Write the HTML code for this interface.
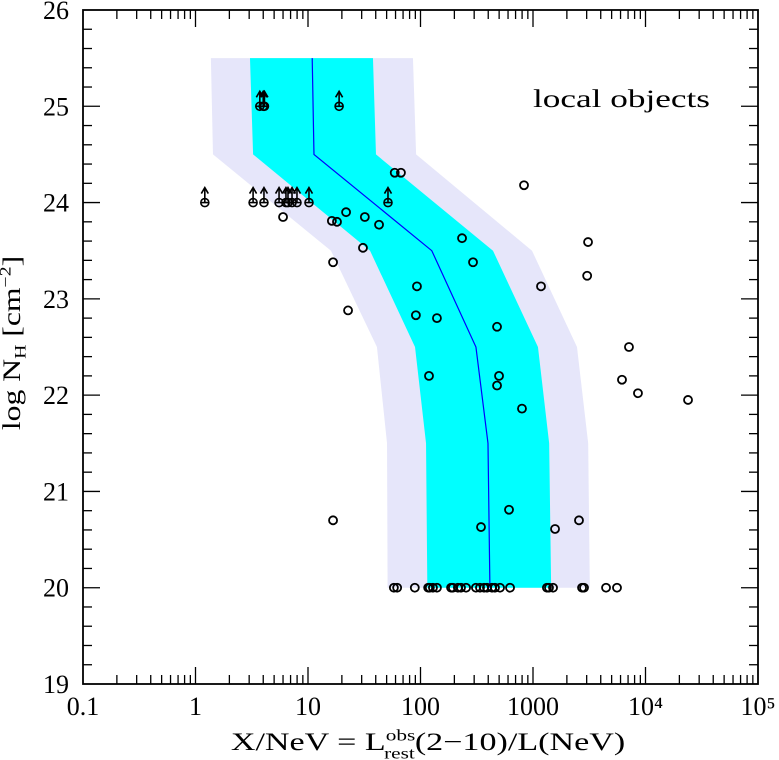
<!DOCTYPE html>
<html><head><meta charset="utf-8"><style>
html,body{margin:0;padding:0;background:#fff;}
svg{display:block;}
text{font-family:"Liberation Serif","DejaVu Serif",serif;fill:#000;}
</style></head><body>
<svg id="chart" width="779" height="760" viewBox="0 0 779 760" xmlns="http://www.w3.org/2000/svg">
<g id="bands"></g>
<g id="pts"></g>
<g id="axes"></g>
<text x="533" y="107" font-size="25" textLength="177" lengthAdjust="spacingAndGlyphs">local objects</text>
<g transform="translate(20,343) rotate(-90) scale(1.32,1.05)">
<text x="0" y="0" text-anchor="middle" font-size="24">log N<tspan font-size="15" dy="5">H</tspan><tspan dy="-5"> [cm</tspan><tspan font-size="15" dy="-9">−2</tspan><tspan dy="9">]</tspan></text>
</g>
<g transform="translate(428,750) scale(1.42,1.05)">
<text x="0" y="0" text-anchor="middle" font-size="24">X/NeV = L<tspan font-size="15" dy="-9">obs</tspan><tspan font-size="15" dx="-22" dy="17">rest</tspan><tspan dy="-8">(2−10)/L(NeV)</tspan></text>
</g>
</svg>
<script>
// band levels (log NH) and widths (X/NeV)
const bandY = [25.5, 24.5, 23.5, 22.5, 21.5, 20];
const medianX = [10.9, 11.3, 126, 311, 398, 414];
const cyanLo = [3.05, 3.25, 35.6, 89.4, 112, 115];
const cyanHi = [37.8, 40.2, 441, 1107, 1392, 1450];
const lavLo = [1.37, 1.43, 16, 41, 50.4, 51];
const lavHi = [85.7, 91.4, 980, 2460, 3094, 3200];
// detections
const detX = [58,62,89,117,121,129,140,187,194,215,229,254,311,338,367,390,432,459,509,625,1330,1387,1507,2729,2840,4460,5580,
 345,612,1570,2563,16.7,832,3085,3030,1178,7130,6180,8570,23880,798,
 59,67,6.0,16.3,18.1,21.8,32,42.8,234,30.8,293,16.7,93,22.7,91,140,479,119,499,479];
const detY = [20,20,20,20,20,20,20,20,20,20,20,20,20,20,20,20,20,20,20,20,20,20,20,20,20,20,20,
 20.63,20.81,20.61,20.70,20.70,24.18,23.59,23.24,23.13,22.50,22.16,22.02,21.95,21.86,
 24.31,24.31,23.85,23.81,23.80,23.90,23.85,23.77,23.63,23.53,23.38,23.38,23.13,22.88,22.83,22.80,22.71,22.20,22.20,22.10];
// lower limits
const limX = [1.21,3.25,4.06,5.53,6.37,6.64,7.21,7.98,10.2,51.4,3.73,4.0,4.1,18.9];
const limY = [24,24,24,24,24,24,24,24,24,24,25,25,25,25];
const xTickLabels = ['0.1','1','10','100','1000','10⁴','10⁵'];
const yTickLabels = ['19','20','21','22','23','24','25','26'];

const L=83,R=758,T=10,B=684;
const sx=v=>L+(Math.log10(v)+1)*(R-L)/6;
const sy=n=>B-(n-19)*(B-T)/7;
const NS='http://www.w3.org/2000/svg';
function mk(tag,attrs,parent){const e=document.createElementNS(NS,tag);for(const k in attrs)e.setAttribute(k,attrs[k]);parent.appendChild(e);return e;}
const bands=document.getElementById('bands');
function poly(lo,hi,fill,name){
  const pts=[];
  for(let i=0;i<bandY.length;i++)pts.push(sx(lo[i])+','+sy(bandY[i]));
  for(let i=bandY.length-1;i>=0;i--)pts.push(sx(hi[i])+','+sy(bandY[i]));
  const p=mk('polygon',{points:pts.join(' '),fill:fill},bands);
  
  
}
poly(lavLo,lavHi,'#e6e6fa','outer-band');
poly(cyanLo,cyanHi,'#00ffff','inner-band');
const ml=mk('polyline',{points:medianX.map((v,i)=>sx(v)+','+sy(bandY[i])).join(' '),fill:'none',stroke:'#0000ff','stroke-width':1.2},bands);



const pts=document.getElementById('pts');
for(let i=0;i<detX.length;i++){
  const c=mk('circle',{cx:sx(detX[i]),cy:sy(detY[i]),r:4,fill:'none',stroke:'#000','stroke-width':1.8},pts);
  
  
}
for(let i=0;i<limX.length;i++){
  const x=sx(limX[i]),y=sy(limY[i]);
  const g=mk('g',{stroke:'#000','stroke-width':1.6,fill:'none'},pts);
  
  
  mk('circle',{cx:x,cy:y,r:4},g);
  mk('line',{x1:x-4,y1:y,x2:x+4,y2:y},g);
  mk('line',{x1:x,y1:y,x2:x,y2:y-14},g);
  mk('polyline',{points:(x-3.5)+','+(y-9)+' '+x+','+(y-15)+' '+(x+3.5)+','+(y-9)},g);
}
const ax=document.getElementById('axes');
const fr=mk('rect',{x:L,y:T,width:R-L,height:B-T,fill:'none',stroke:'#000','stroke-width':1.8},ax);


function tk(x1,y1,x2,y2){mk('line',{x1,y1,x2,y2,stroke:'#000','stroke-width':1.3},ax);}
for(let d=0;d<6;d++){
  for(let m=1;m<10;m++){
    const v=Math.pow(10,d-1)*m;const x=sx(v);const len=m===1?17:9;
    if(m===1&&d===0)continue;
    tk(x,B,x,B-len);tk(x,T,x,T+len);
  }
}
xTickLabels.forEach((s,i)=>{
  const t=mk('text',{x:sx(Math.pow(10,i-1)),y:B+31,'text-anchor':'middle','font-size':26},ax);
  t.textContent=s;
  
  
});
for(let k=0;k<=35;k++){
  const n=19+k*0.2;const y=sy(n);const len=(k%5===0)?17:9;
  if(k===0||k===35)continue;
  tk(L,y,L+len,y);tk(R,y,R-len,y);
}
yTickLabels.forEach((s,i)=>{
  const t=mk('text',{x:L-14,y:sy(19+i)+9,'text-anchor':'end','font-size':26},ax);
  t.textContent=s;
  
  
});
</script>
</body></html>
